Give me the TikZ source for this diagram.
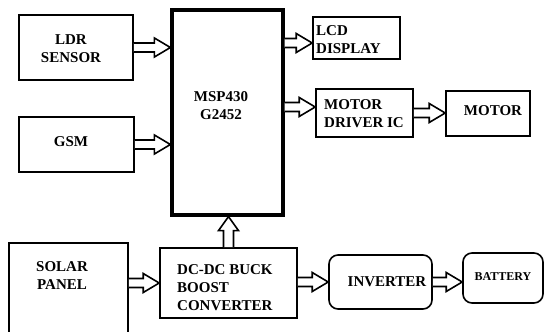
\documentclass[tikz,border=0pt]{standalone}
\usepackage{fontspec}
\setmainfont{Liberation Serif}
\usetikzlibrary{calc}
\tikzset{
  box/.style={draw, line width=1.6pt, inner sep=0pt},
  rbox/.style={box, rounded corners=9pt},
  lbl/.style={font=\bfseries\fontsize{15}{18}\selectfont, inner sep=0pt, align=center},
  blk/.style={draw, line width=1.6pt, fill=white, line join=miter}
}
\newcommand\blkH[2]{%
  \draw[blk] ($(#1)+(0,4.5)$) -- ($(#2)+(-16,4.5)$) -- ($(#2)+(-16,9.5)$) -- (#2)
    -- ($(#2)+(-16,-9.5)$) -- ($(#2)+(-16,-4.5)$) -- ($(#1)+(0,-4.5)$);}
\newcommand\blkV[2]{%
  \draw[blk] ($(#1)+(-5,0)$) -- ($(#2)+(-5,14)$) -- ($(#2)+(-10,14)$) -- (#2)
    -- ($(#2)+(10,14)$) -- ($(#2)+(5,14)$) -- ($(#1)+(5,0)$);}
\begin{document}
\begin{tikzpicture}[x=1pt,y=-1pt]
\useasboundingbox (0,0) rectangle (544,332);
\clip (0,0) rectangle (544,332);
\fill[white] (0,0) rectangle (544,332);
% boxes
\node[box, minimum width=114, minimum height=65] (ldr) at (76,47.5) {};
\node[box, minimum width=115, minimum height=55] (gsm) at (76.5,144.5) {};
\node[box, line width=3.2pt, minimum width=111, minimum height=205] (msp) at (227.5,112.5) {};
\node[box, minimum width=87, minimum height=42] (lcd) at (356.5,38) {};
\node[box, minimum width=97, minimum height=48] (drv) at (364.5,113) {};
\node[box, minimum width=84, minimum height=45] (mot) at (488,113.5) {};
\node[box, minimum width=119, minimum height=102] (sol) at (68.5,294) {};
\node[box, minimum width=137, minimum height=70] (dc) at (228.5,283) {};
\node[rbox, minimum width=103, minimum height=54] (inv) at (380.5,282) {};
\node[rbox, minimum width=80, minimum height=50] (bat) at (503,278) {};
% labels
\node[lbl] (ldrt) at (71,49) {LDR\\SENSOR};
\node[lbl] (gsmt) at (71,142) {GSM};
\node[lbl] (mspt) at (221,106) {MSP430\\G2452};
\node[lbl, anchor=west, align=left] (lcdt) at (316,40) {LCD\\DISPLAY};
\node[lbl, anchor=west, align=left] (drvt) at (324,114) {MOTOR\\DRIVER IC};
\node[lbl] (mott) at (493,111) {MOTOR};
\node[lbl] (solt) at (62,276) {SOLAR\\PANEL};
\node[lbl, anchor=west, align=left] (dct) at (177,288) {DC-DC BUCK\\BOOST\\CONVERTER};
\node[lbl] (invt) at (387,282) {INVERTER};
\node[lbl, font=\bfseries\fontsize{12}{14}\selectfont] (batt) at (503,277) {BATTERY};
% arrows
\coordinate (lcdS) at ($(msp.east |- lcd.west)+(0,5)$);
\coordinate (lcdE) at ($(lcd.west)+(0,5)$);
\coordinate (drvS) at ($(msp.east |- drv.west)+(0,-6)$);
\coordinate (drvE) at ($(drv.west)+(0,-6)$);
\blkH{ldr.east}{msp.west |- ldr.east}
\blkH{gsm.east}{msp.west |- gsm.east}
\blkH{lcdS}{lcdE}
\blkH{drvS}{drvE}
\blkH{drv.east}{mot.west |- drv.east}
\blkH{sol.east |- dc.west}{dc.west}
\blkH{dc.east |- inv.west}{inv.west}
\blkH{inv.east}{bat.west |- inv.east}
\blkV{dc.north}{msp.south -| dc.north}
\end{tikzpicture}
\end{document}
